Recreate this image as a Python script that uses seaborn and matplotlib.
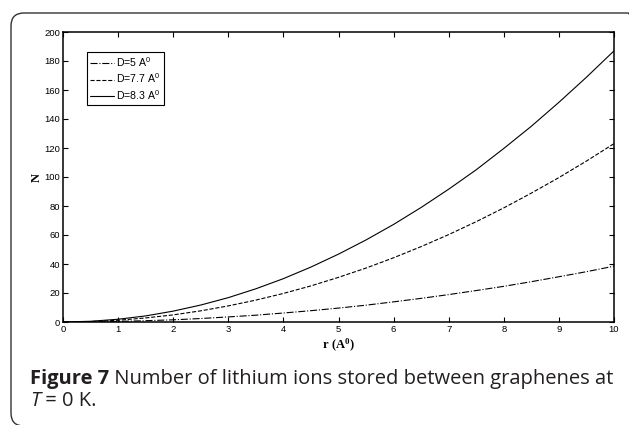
import numpy as np
import pandas as pd
import matplotlib
matplotlib.use("Agg")
import matplotlib.pyplot as plt
from matplotlib.patches import FancyBboxPatch
import seaborn as sns

# values
r = [0, 0.5, 1, 1.5, 2, 2.5, 3, 3.5, 4, 4.5, 5, 5.5, 6, 6.5, 7, 7.5, 8, 8.5, 9, 9.5, 10]
n_d5 = [0, 0.1, 0.4, 0.9, 1.5, 2.4, 3.5, 4.7, 6.2, 7.8, 9.6, 11.6, 13.9, 16.3, 18.9,
        21.7, 24.6, 27.8, 31.2, 34.7, 38.5]
n_d77 = [0, 0.3, 1.2, 2.8, 4.9, 7.7, 11.1, 15.1, 19.7, 24.9, 30.8, 37.2, 44.3, 52.0,
         60.3, 69.2, 78.7, 88.9, 99.6, 111.0, 123.0]
n_d83 = [0, 0.5, 1.9, 4.2, 7.5, 11.7, 16.8, 22.9, 29.9, 37.9, 46.8, 56.6, 67.3, 79.0,
         91.6, 105.0, 119.7, 135.0, 151.5, 168.8, 187.0]
labels = ["D=5 A$^{0}$", "D=7.7 A$^{0}$", "D=8.3 A$^{0}$"]
styles = ["-.", "--", "-"]

sns.set_theme(style="ticks", rc={"text.color": "black", "axes.labelcolor": "black"})
plt.rcParams["font.family"] = ["Liberation Sans", "DejaVu Sans"]
plt.rcParams["mathtext.fontset"] = "custom"
plt.rcParams["mathtext.rm"] = "Liberation Sans"
plt.rcParams["mathtext.bf"] = "Liberation Serif:bold"

fig = plt.figure(figsize=(6.29, 4.25), dpi=100)
ax = fig.add_axes([63 / 629, 1 - 322 / 425, 551 / 629, 290 / 425])

for ys, lab, ls in zip([n_d5, n_d77, n_d83], labels, styles):
    df = pd.DataFrame({"r": r, "N": ys})
    sns.lineplot(data=df, x="r", y="N", ax=ax, color="black", lw=0.8,
                 linestyle=ls, label=lab)

ax.set_xlim(0, 10)
ax.set_ylim(0, 200)
ax.set_xticks(range(0, 11))
ax.set_yticks(range(0, 201, 20))
ax.tick_params(direction="in", length=3.5, width=0.8, top=True, right=True,
               labelsize=6.8, pad=2, colors="black")
for sp in ax.spines.values():
    sp.set_visible(True)
    sp.set_linewidth(1.1)
    sp.set_color("black")

ax.set_xlabel(r"$\mathbf{r\ (A^{0})}$", fontsize=9, labelpad=2)
ax.set_ylabel("N", fontsize=9, fontfamily="Liberation Serif", fontweight="bold",
              labelpad=1)

leg = ax.legend(loc="upper left", bbox_to_anchor=(0.043, 0.931), borderaxespad=0,
                fontsize=7.6, frameon=True, fancybox=False, framealpha=1,
                handlelength=2.3, handletextpad=0.2, labelspacing=0.25,
                borderpad=0.3)
leg.get_frame().set_edgecolor("black")
leg.get_frame().set_linewidth(0.8)

# caption frame (inches, so the corners stay round)
box = FancyBboxPatch((0.11, -0.01), 6.30, 4.13,
                     boxstyle="round,pad=0,rounding_size=0.13",
                     transform=fig.dpi_scale_trans, fill=False, edgecolor="#333333",
                     lw=1.0, clip_on=False)
fig.patches.append(box)

cap = "#231f20"
fs = 14.5
t1 = fig.text(30 / 629, 1 - 389 / 425, "Figure 7", fontsize=fs,
              fontfamily="Open Sans", fontweight="bold", color=cap, va="bottom")
plt.annotate(" Number of lithium ions stored between graphenes at", xy=(1, 0),
             xycoords=t1, va="bottom", ha="left", fontsize=fs,
             fontfamily="Open Sans", color=cap, annotation_clip=False)
t2 = fig.text(30 / 629, 1 - 411 / 425, "T", fontsize=fs, fontfamily="Open Sans",
              fontstyle="italic", color=cap, va="bottom")
plt.annotate(" = 0 K.", xy=(1, 0), xycoords=t2, va="bottom", ha="left",
             fontsize=fs, fontfamily="Open Sans", color=cap, annotation_clip=False)

fig.savefig("out.png", dpi=100)
